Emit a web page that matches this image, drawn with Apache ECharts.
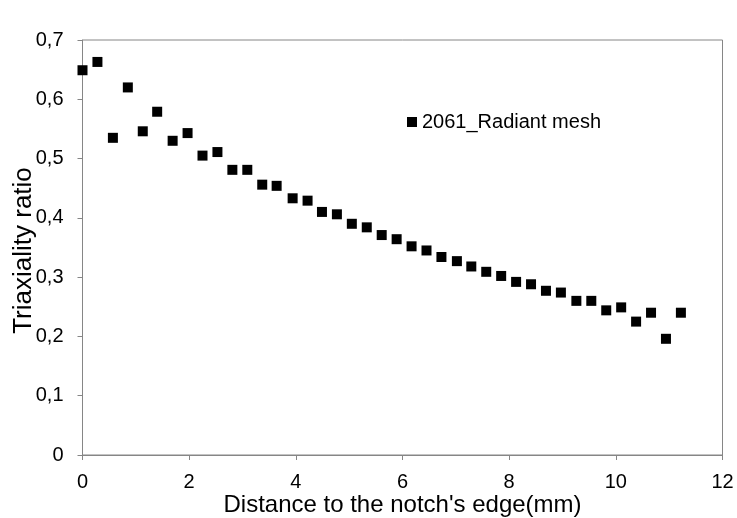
<!DOCTYPE html>
<html>
<head>
<meta charset="utf-8">
<script src="https://cdn.jsdelivr.net/npm/echarts@6/dist/echarts.min.js"></script>
<style>html,body{margin:0;padding:0;background:#fff;}#c{width:737px;height:518px;}</style>
</head>
<body>
<div id="c"></div>
<script>
const seriesName = '2061_Radiant mesh';
const distances = [0, 0.28, 0.57, 0.85, 1.13, 1.40, 1.69, 1.97, 2.25, 2.53, 2.81, 3.09, 3.37, 3.64,
  3.94, 4.22, 4.49, 4.77, 5.05, 5.33, 5.61, 5.89, 6.17, 6.45, 6.73, 7.02, 7.29, 7.57,
  7.85, 8.13, 8.41, 8.69, 8.97, 9.26, 9.54, 9.82, 10.10, 10.38, 10.66, 10.94, 11.22];
const triaxiality = [0.649, 0.663, 0.535, 0.620, 0.546, 0.579, 0.530, 0.543, 0.505, 0.511, 0.481, 0.481, 0.456, 0.454,
  0.433, 0.429, 0.410, 0.406, 0.390, 0.384, 0.371, 0.364, 0.352, 0.345, 0.334, 0.327, 0.318, 0.309,
  0.302, 0.292, 0.288, 0.277, 0.274, 0.260, 0.260, 0.244, 0.249, 0.225, 0.240, 0.196, 0.240];
const xAxisTitle = "Distance to the notch's edge(mm)";
const yAxisTitle = 'Triaxiality ratio';

const font = 'Liberation Sans, Arial, sans-serif';
const points = distances.map((d, i) => [d, triaxiality[i]]);
const chart = echarts.init(document.getElementById('c'), null, {renderer: 'canvas'});
chart.setOption({
  backgroundColor: '#fff',
  animation: false,
  textStyle: {fontFamily: font},
  grid: {left: 82.5, right: 14.5, top: 40, bottom: 63, containLabel: false, outerBoundsMode: 'none',
    show: true, borderColor: '#868686', borderWidth: 1, backgroundColor: 'transparent'},
  legend: {
    data: [seriesName], left: 407, top: 112, padding: 0, icon: 'rect', itemWidth: 10, itemHeight: 10,
    itemStyle: {color: '#000', opacity: 1},
    textStyle: {fontSize: 20, color: '#000', fontFamily: font}
  },
  xAxis: {
    type: 'value', min: 0, max: 12, interval: 2,
    name: xAxisTitle, nameLocation: 'middle', nameGap: 38, nameMoveOverlap: false,
    nameTextStyle: {fontSize: 24, color: '#000', fontFamily: font},
    axisLine: {show: true, lineStyle: {color: '#868686', width: 1}},
    axisTick: {show: true, length: 5, inside: false, lineStyle: {color: '#868686'}},
    axisLabel: {fontSize: 20, color: '#000', margin: 17, fontFamily: font},
    splitLine: {show: false}
  },
  yAxis: {
    type: 'value', min: 0, max: 0.7, interval: 0.1,
    name: yAxisTitle, nameLocation: 'middle', nameGap: 46, nameMoveOverlap: false,
    nameTextStyle: {fontSize: 26, color: '#000', fontFamily: font, padding: [0, 6, 0, 0]},
    axisLine: {show: true, lineStyle: {color: '#868686', width: 1}},
    axisTick: {show: true, length: 5, inside: false, lineStyle: {color: '#868686'}},
    axisLabel: {fontSize: 20, color: '#000', margin: 19, fontFamily: font,
      formatter: v => v === 0 ? '0' : v.toFixed(1).replace('.', ',')},
    splitLine: {show: false}
  },
  series: [{
    name: seriesName, type: 'scatter', symbol: 'rect', symbolSize: 10,
    itemStyle: {color: '#000', opacity: 1}, data: points
  }]
});
</script>
</body>
</html>
